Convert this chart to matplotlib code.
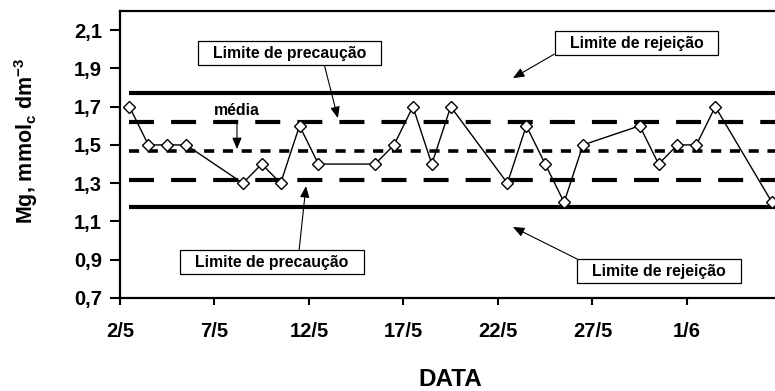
import matplotlib
matplotlib.use('Agg')
import matplotlib.pyplot as plt
import numpy as np
import pandas as pd

# ---- data ----
dates = ["2/5", "3/5", "4/5", "5/5", "8/5", "9/5", "10/5", "11/5", "12/5",
         "15/5", "16/5", "17/5", "18/5", "19/5", "22/5", "23/5", "24/5",
         "25/5", "26/5", "29/5", "30/5", "31/5", "1/6", "2/6", "5/6"]
mg = [1.7, 1.5, 1.5, 1.5, 1.3, 1.4, 1.3, 1.6, 1.4,
      1.4, 1.5, 1.7, 1.4, 1.7, 1.3, 1.6, 1.4,
      1.2, 1.5, 1.6, 1.4, 1.5, 1.5, 1.7, 1.2]
tick_dates = ["2/5", "7/5", "12/5", "17/5", "22/5", "27/5", "1/6"]
y_ticks = [0.7, 0.9, 1.1, 1.3, 1.5, 1.7, 1.9, 2.1]

rejection_upper = 1.773
precaution_upper = 1.622
mean_value = 1.469
precaution_lower = 1.316
rejection_lower = 1.176


def to_day(s):
    d, m = s.split('/')
    return (pd.Timestamp(2000, int(m), int(d)) - pd.Timestamp(2000, 5, 2)).days


x = np.array([to_day(s) for s in dates]) + 0.5
tx = [to_day(s) for s in tick_dates]

plt.rcParams['font.family'] = ['Liberation Sans', 'DejaVu Sans']
plt.rcParams['font.weight'] = 'bold'

fig = plt.figure(figsize=(7.75, 3.91), dpi=100)
ax = fig.add_axes([120 / 775, 93 / 391, 655 / 775, 287 / 391])
xmax = 34.66
ax.set_xlim(0, xmax)
ax.set_ylim(0.7, 2.2)

# control limits
for v in (rejection_upper, rejection_lower):
    ax.plot([x[0], xmax], [v, v], color='black', lw=3.0, solid_capstyle='butt')
for v in (precaution_upper, precaution_lower):
    ax.plot([x[0], xmax], [v, v], color='black', lw=3.0,
            linestyle=(0, (6.0, 4.1)), dash_capstyle='butt')
ax.plot([x[0], xmax], [mean_value, mean_value], color='black', lw=2.6,
        linestyle=(0, (2.8, 2.4)), dash_capstyle='butt')

# data series
ax.plot(x, mg, color='black', lw=1.0, marker='D', ms=6.2, mfc='white',
        mec='black', mew=1.0, zorder=5, clip_on=False)

# axes styling
ax.spines['right'].set_visible(False)
for s in ('left', 'bottom', 'top'):
    ax.spines[s].set_linewidth(1.6)
ax.set_xticks(tx)
ax.set_xticklabels(tick_dates)
ax.set_yticks(y_ticks)
ax.set_yticklabels([f"{v:.1f}".replace('.', ',') for v in y_ticks])
ax.tick_params(axis='x', direction='out', length=5, width=1.5, pad=12,
               labelsize=14.5)
ax.tick_params(axis='y', direction='out', length=7, width=1.5, pad=6,
               labelsize=14.5)
for lab in ax.get_xticklabels() + ax.get_yticklabels():
    lab.set_fontweight('bold')

fig.text(26 / 775, 1 - 141 / 391,
         r"Mg, mmol$_\mathregular{c}$ dm$^\mathregular{-3}$",
         rotation=90, ha='center', va='center', fontsize=15.5,
         fontweight='bold')
fig.text(450 / 775, 1 - 380 / 391, "DATA", ha='center', va='center',
         fontsize=17.5, fontweight='bold')

box = dict(boxstyle='square,pad=0.95', fc='white', ec='black', lw=0.9,
           mutation_aspect=0.3)
arrow = dict(arrowstyle='-|>,head_length=0.6,head_width=0.25', color='black',
             lw=0.8, shrinkA=0, shrinkB=0)
fs = 11.4

ax.annotate("Limite de precaução", xy=(11.53, 1.64), xytext=(8.97, 1.979),
            ha='center', va='center', fontsize=fs, fontweight='bold',
            bbox=box, arrowprops=dict(arrow, relpos=(0.72, 0.0)))
ax.annotate("Limite de rejeição", xy=(20.79, 1.849), xytext=(27.33, 2.032),
            ha='center', va='center', fontsize=fs, fontweight='bold',
            bbox=box, arrowprops=dict(arrow, relpos=(0.0, 0.36)))
ax.annotate("média", xy=(6.19, 1.478), xytext=(6.19, 1.682),
            ha='center', va='center', fontsize=fs, fontweight='bold',
            arrowprops=dict(arrow, relpos=(0.5, 0.0)))
ax.annotate("Limite de precaução", xy=(9.84, 1.285), xytext=(8.04, 0.888),
            ha='center', va='center', fontsize=fs, fontweight='bold',
            bbox=box, arrowprops=dict(arrow, relpos=(0.674, 1.0)))
ax.annotate("Limite de rejeição", xy=(20.79, 1.071), xytext=(28.54, 0.841),
            ha='center', va='center', fontsize=fs, fontweight='bold',
            bbox=box, arrowprops=dict(arrow, relpos=(0.0, 0.79)))

fig.savefig("out.png", dpi=100)
